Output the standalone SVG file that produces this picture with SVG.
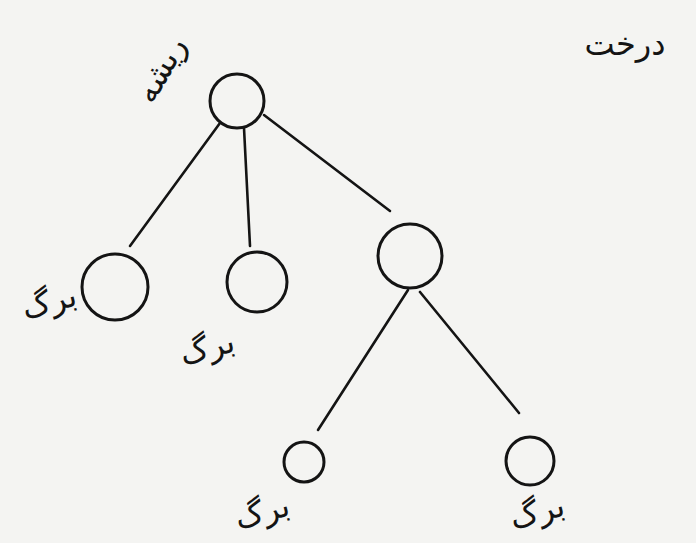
<svg xmlns="http://www.w3.org/2000/svg" width="696" height="543" viewBox="0 0 696 543">
<style>
.bg{fill:#f4f4f2}
.n{fill:none;stroke:#141414;stroke-width:3}
.e{fill:none;stroke:#141414;stroke-width:2.6;stroke-linecap:round}
.t{font-family:"DejaVu Sans",sans-serif;fill:#141414;font-size:32px}
</style>
<rect class="bg" width="696" height="543"/>
<g id="connectors">
<line class="e" x1="220" y1="123" x2="130" y2="246"/>
<line class="e" x1="244" y1="128" x2="250" y2="246"/>
<line class="e" x1="264" y1="115" x2="390" y2="211"/>
<line class="e" x1="408" y1="290" x2="318" y2="430"/>
<line class="e" x1="420" y1="292" x2="519" y2="413"/>
</g>
<g id="root"><circle class="n" cx="237" cy="101" r="27"/></g>
<g id="leaf1"><circle class="n" cx="115" cy="287" r="33"/></g>
<g id="leaf2"><circle class="n" cx="257" cy="282" r="30"/></g>
<g id="node3"><circle class="n" cx="410" cy="256" r="32"/></g>
<g id="leaf3"><circle class="n" cx="304" cy="462" r="20"/></g>
<g id="leaf4"><circle class="n" cx="530" cy="461" r="24"/></g>
<g id="labels">
<text class="t" x="625" y="55" text-anchor="middle" font-size="38">درخت</text>
<text class="t" x="0" y="0" text-anchor="middle" transform="translate(170 75) rotate(-60)">ریشه</text>
<text class="t" x="52" y="312" text-anchor="middle" transform="rotate(-15 52 312)">برگ</text>
<text class="t" x="210" y="358" text-anchor="middle" transform="rotate(-15 210 358)">برگ</text>
<text class="t" x="265" y="522" text-anchor="middle" transform="rotate(-15 265 522)">برگ</text>
<text class="t" x="540" y="522" text-anchor="middle" transform="rotate(-15 540 522)">برگ</text>
</g>
</svg>
